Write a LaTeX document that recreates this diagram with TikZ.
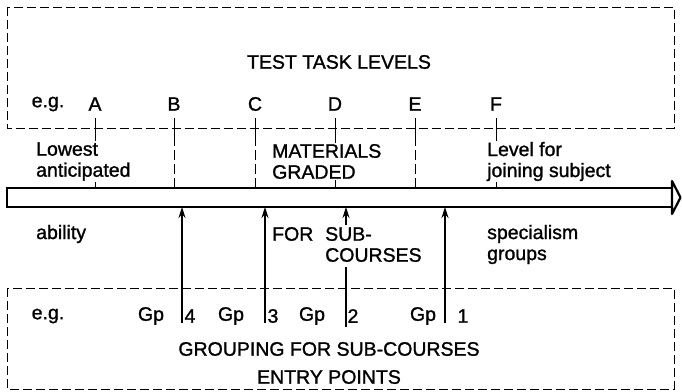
\documentclass[tikz,border=0pt]{standalone}
\usepackage{fontspec}
\setmainfont{Liberation Sans}[BoldFont=Liberation Sans, BoldFeatures={FakeBold=1.2}]
\usetikzlibrary{arrows.meta}
\begin{document}
\begin{tikzpicture}[x=1pt,y=-1pt,
  lbl/.style={font=\fontsize{19.5}{21}\selectfont\bfseries, inner sep=1pt},
  lblw/.style={lbl, fill=white, align=left, anchor=west},
  framebox/.style={line width=1pt, dash pattern=on 9pt off 4pt},
  levelline/.style={line width=1pt, dash pattern=on 10pt off 4pt},
  tickline/.style={line width=1pt},
  barline/.style={line width=2.2pt, line join=miter},
  uparrow/.style={line width=1.3pt, -{Stealth[length=11pt,width=7pt]}}]
\useasboundingbox (0,0) rectangle (682,391);

% top box
\draw[framebox] (7,7) rectangle (674,128);
\node[lbl] (title) at (339,62) {TEST TASK LEVELS};
\node[lbl] (eg1) at (48,104) {e.g.};
\node[lbl] (A) at (95,104) {A};
\node[lbl] (B) at (174,104) {B};
\node[lbl] (C) at (255,104) {C};
\node[lbl] (D) at (335,104) {D};
\node[lbl] (E) at (415,104) {E};
\node[lbl] (F) at (496,104) {F};

% level lines
\foreach \n/\x in {A/95,B/174,C/255,D/335,E/415,F/496}{
  \coordinate (t\n) at (\x,118);
  \coordinate (m\n) at (\x,136);
  \coordinate (b\n) at (\x,188);
  \draw[tickline] (t\n) -- (m\n);
  \draw[levelline] (m\n) -- (b\n);
}

\node[lblw] (low) at (35,161.5) {Lowest\\anticipated};
\node[lblw] (mat) at (271,161.5) {MATERIALS\\GRADED};
\node[lblw] (lev) at (486,161.5) {Level for\\joining subject};

% bar
\draw[barline] (672,188) -- (7,188) -- (7,207) -- (672,207);
\draw[barline, fill=white, line join=round] (672,181) -- (680.5,197.5) -- (672,214) -- cycle;

% lower labels
\node[lbl, anchor=west] (abil) at (35,234) {ability};
\node[lbl, anchor=west] (for) at (271,234) {FOR};
\node[lblw, fill=none] (sub) at (324,244.5) {SUB-\\COURSES};
\node[lblw, fill=none] (spec) at (486,244.5) {specialism\\groups};

% bottom box
\draw[framebox] (7,288) rectangle (674,389);
\node[lbl] (eg2) at (48,316) {e.g.};
\node[lbl] (gp4) at (151,316) {Gp};
\node[lbl] (n4) at (190,316) {4};
\node[lbl] (gp3) at (231,316) {Gp};
\node[lbl] (n3) at (273,316) {3};
\node[lbl] (gp2) at (312,316) {Gp};
\node[lbl] (n2) at (353,316) {2};
\node[lbl] (gp1) at (423,316) {Gp};
\node[lbl] (n1) at (463,316) {1};
\node[lbl] (grp) at (329,349) {GROUPING FOR SUB-COURSES};
\node[lbl] (entry) at (329,377) {ENTRY POINTS};

% entry arrows
\coordinate (s4) at (182,323); \coordinate (e4) at (182,207);
\coordinate (s3) at (265,323); \coordinate (e3) at (265,207);
\coordinate (s1) at (445,323); \coordinate (e1) at (445,207);
\coordinate (s2) at (346,225); \coordinate (e2) at (346,207);
\coordinate (l2a) at (346,267); \coordinate (l2b) at (346,327);
\draw[uparrow] (s4) -- (e4);
\draw[uparrow] (s3) -- (e3);
\draw[uparrow] (s1) -- (e1);
\draw[uparrow] (s2) -- (e2);
\draw[line width=1.3pt] (l2a) -- (l2b);
\end{tikzpicture}
\end{document}
